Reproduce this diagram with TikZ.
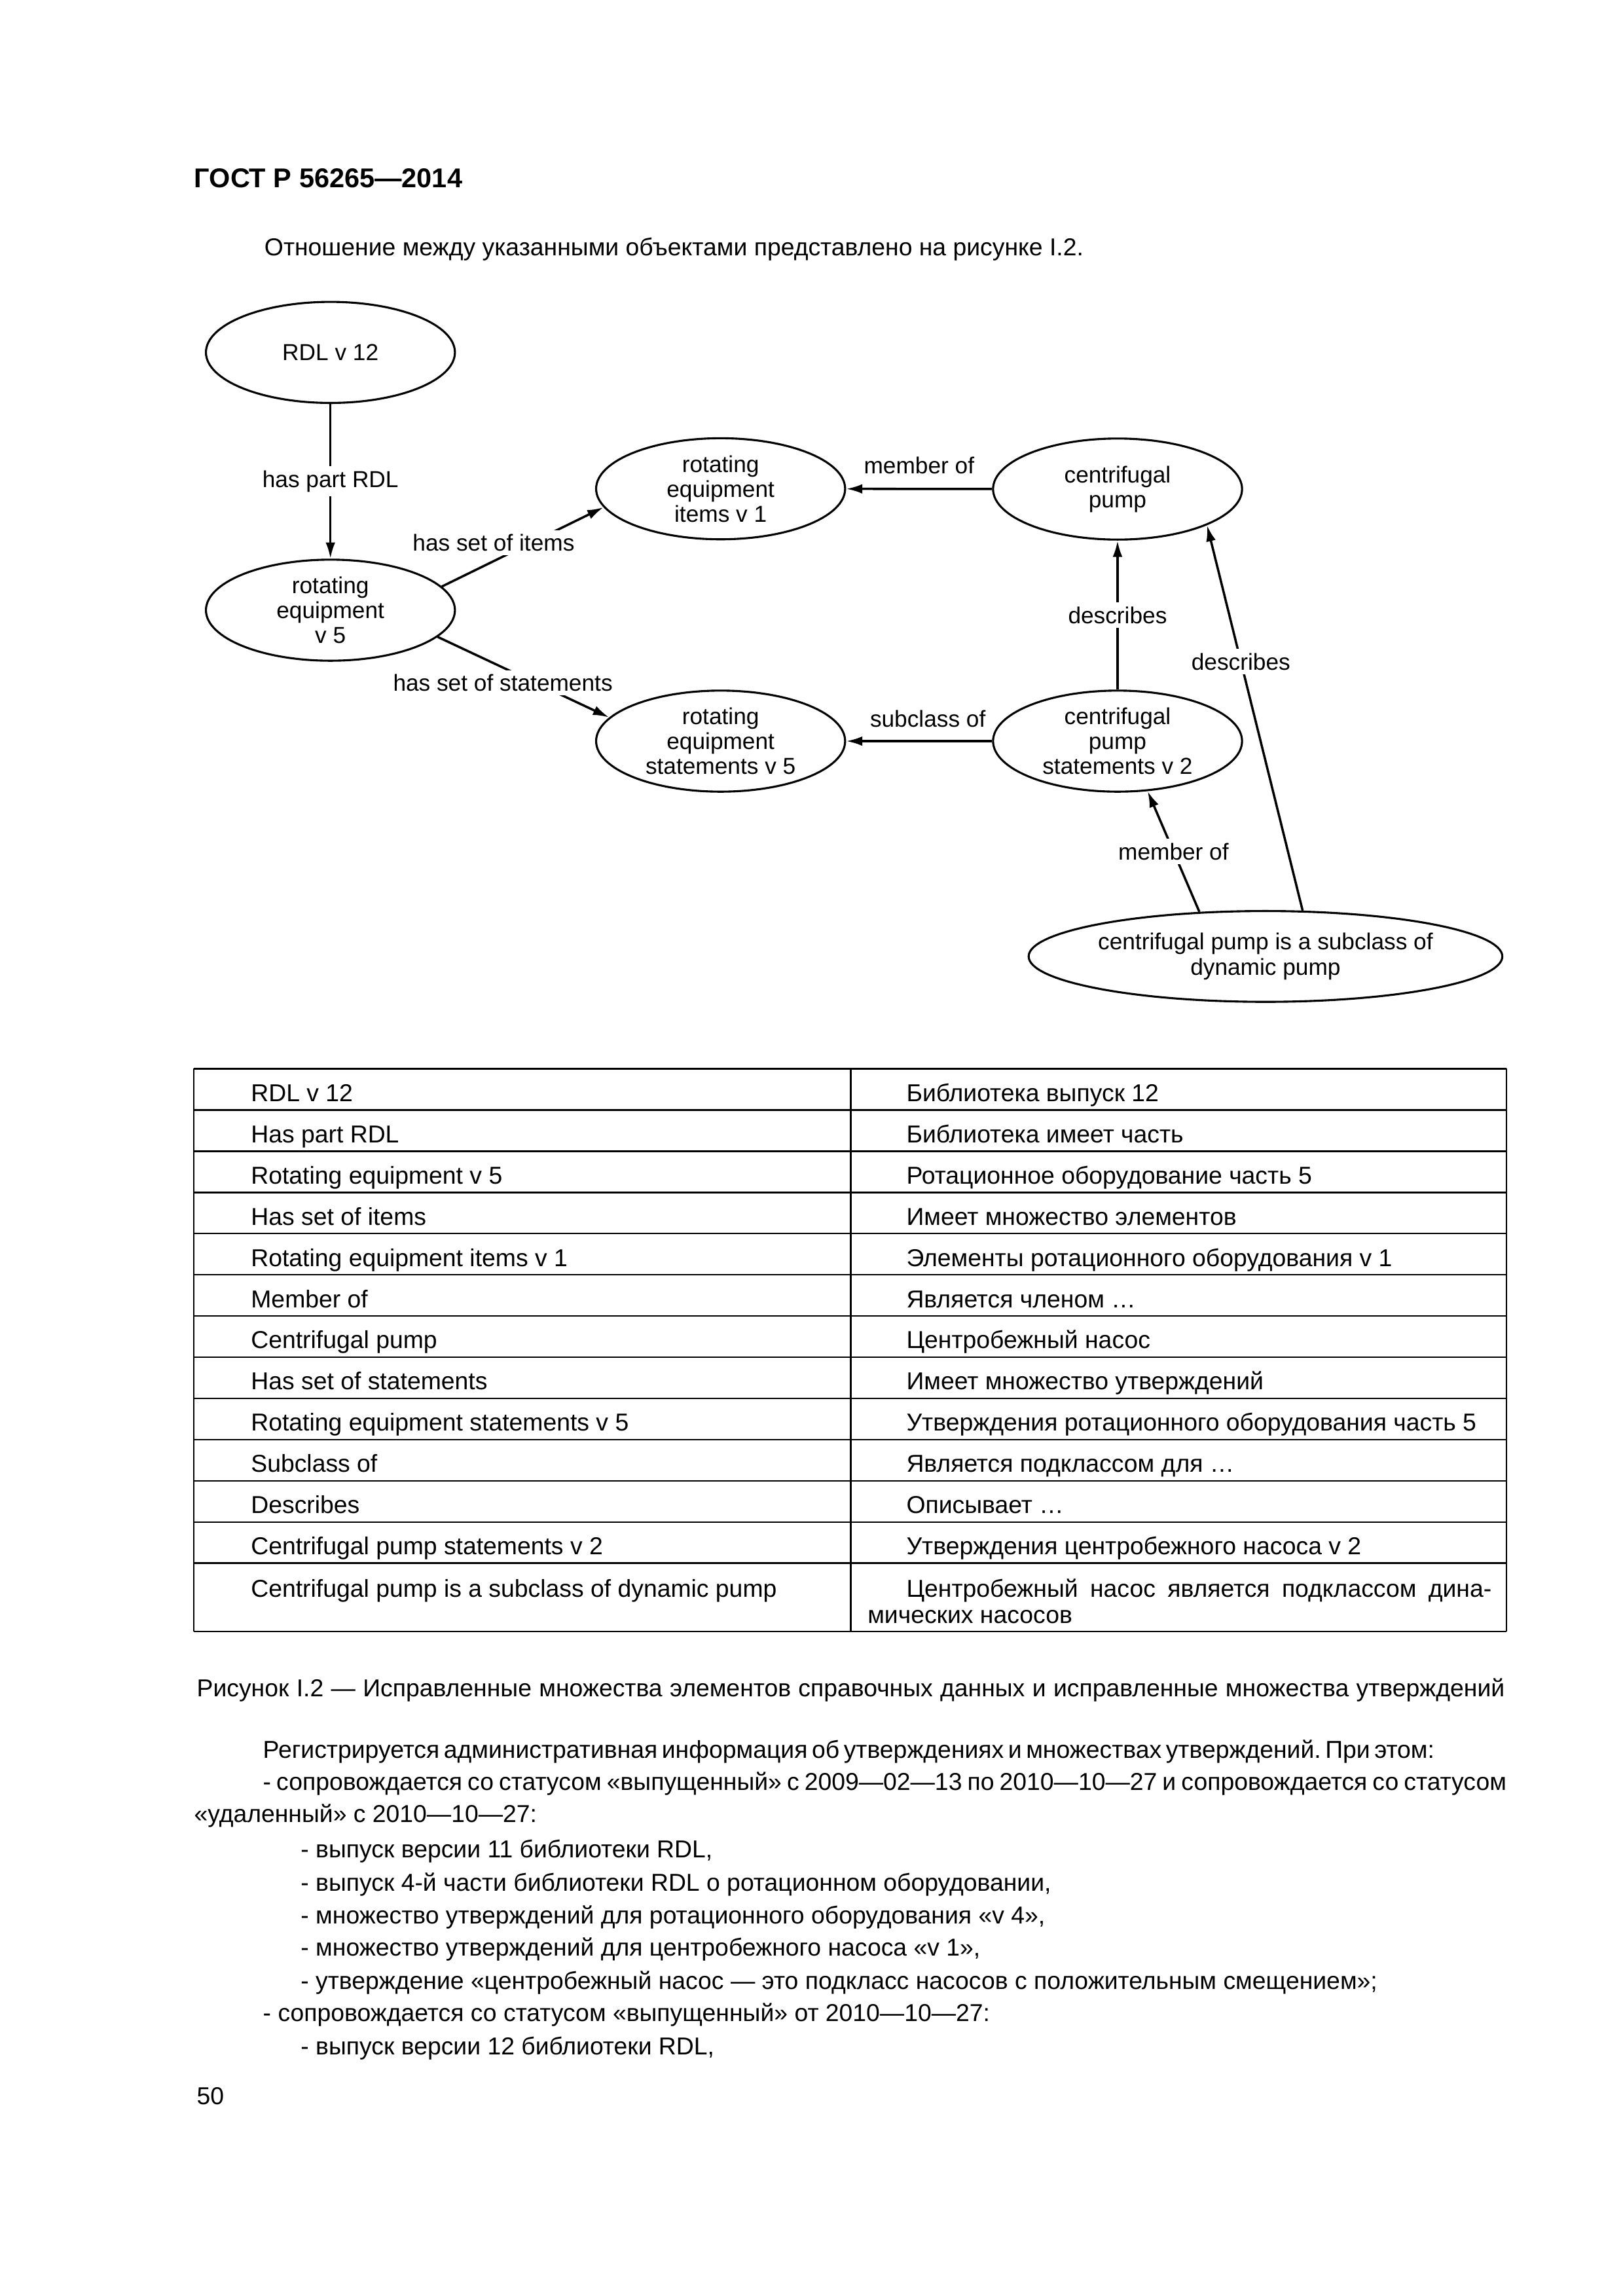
\documentclass[tikz,border=0pt]{standalone}
\usepackage{fontspec}
\setmainfont{Liberation Sans}
\newfontfamily\tightfont{Liberation Sans}[WordSpace=0.63]
\usetikzlibrary{shapes.geometric,arrows.meta}
\newlength\pxu
\setlength\pxu{0.18953mm}
\frenchspacing

\begin{document}
\begin{tikzpicture}[x=\pxu,y=-\pxu,
    obj/.style={ellipse,draw,line width=0.75pt,inner sep=0pt,minimum width=170*\pxu,minimum height=69*\pxu,align=center,font=\fontsize{8.5}{9.2}\selectfont},
    rel/.style={line width=0.85pt,-{Latex[length=2.1mm,width=1.25mm]}},
    lbl/.style={fill=white,inner sep=1.5pt,font=\fontsize{8.5}{9.2}\selectfont},
    txt/.style={anchor=base west,inner sep=0pt,font=\fontsize{9}{11}\selectfont},
    cell/.style={anchor=base west,inner sep=0pt,font=\fontsize{9}{11}\selectfont},
    grid/.style={line width=0.6pt}]
      \useasboundingbox (0,0) rectangle (1108,1567.6);

      \node[txt,font=\fontsize{10}{12}\selectfont\bfseries] (head) at (132.3,128) {ГОСТ Р 56265—2014};
      \node[txt] (intro) at (180.2,174.5) {Отношение между указанными объектами представлено на рисунке I.2.};

      % diagram
      \node[obj] (rdl) at (225.6,240.6) {RDL v 12};
      \node[obj] (rot) at (225.6,416.6) {rotating\\equipment\\v 5};
      \node[obj] (items) at (492,333.7) {rotating\\equipment\\items v 1};
      \node[obj] (cp) at (763,333.9) {centrifugal\\pump};
      \node[obj] (stm) at (492,506) {rotating\\equipment\\statements v 5};
      \node[obj] (cps) at (763,506) {centrifugal\\pump\\statements v 2};
      \node[obj,minimum width=319*\pxu,minimum height=62*\pxu] (sub) at (864,653) {centrifugal pump is a subclass of\\dynamic pump};

      \draw[rel] (rdl) -- node[lbl] {has part RDL} (rot);
      \draw[rel] (rot.12) -- node[lbl,pos=.32,yshift=2.4mm] {has set of items} (items.189);
      \draw[rel] (rot.-14) -- node[lbl,pos=.38,yshift=-2mm] {has set of statements} (stm.168);
      \draw[rel] (cp) -- node[lbl,yshift=3mm] {member of} (items);
      \draw[rel] (cps) -- node[lbl,pos=.44,yshift=2.85mm] {subclass of} (stm);
      \draw[rel] (cps) -- node[lbl] {describes} (cp);
      \draw[rel] (sub.146) -- node[lbl] {member of} (cps.-59);
      \draw[rel] (sub.51) -- node[lbl,pos=.646] {describes} (cp.-22.6);

      % table
      \foreach \k in {0,...,12}
        \draw[grid] (132.2,{729.7+28.13*\k}) -- (1028.5,{729.7+28.13*\k});
      \draw[grid] (132.2,1114) -- (1028.5,1114);
      \foreach \c in {132.2,580.9,1028.5}
        \draw[grid] (\c,729.7) -- (\c,1114);

      \foreach \i/\a/\b in {1/RDL v 12/Библиотека выпуск 12,
                            2/Has part RDL/Библиотека имеет часть,
                            3/Rotating equipment v 5/Ротационное оборудование часть 5,
                            4/Has set of items/Имеет множество элементов,
                            5/Rotating equipment items v 1/Элементы ротационного оборудования v 1,
                            6/Member of/Является членом …,
                            7/Centrifugal pump/Центробежный насос,
                            8/Has set of statements/Имеет множество утверждений,
                            9/Rotating equipment statements v 5/Утверждения ротационного оборудования часть 5,
                            10/Subclass of/Является подклассом для …,
                            11/Describes/Описывает …,
                            12/Centrifugal pump statements v 2/Утверждения центробежного насоса v 2}
      {
        \node[cell] (l\i) at (171,{729.7+28.13*(\i-1)+22.3}) {\a};
        \node[cell] (r\i) at (618.5,{729.7+28.13*(\i-1)+22.3}) {\b};
      }
      \node[cell] (l13) at (171,1090.5) {Centrifugal pump is a subclass of dynamic pump};
      \node[cell] (r13) at (592,1090.5) {\makebox[426\pxu][s]{\hspace*{26.5\pxu}Центробежный насос является подклассом дина-}};
      \node[cell] (r13b) at (592,1108.5) {мических насосов};

      \node[txt] (caption) at (134,1158.3) {\makebox[893\pxu][s]{Рисунок I.2 — Исправленные множества элементов справочных данных и исправленные множества утверждений}};

      % text below
      \node[txt] (p1) at (179.2,1200.5) {\tightfont Регистрируется административная информация об утверждениях и множествах утверждений. При этом:};
      \node[txt] (p2) at (179.2,1222.3) {\makebox[849\pxu][s]{- сопровождается со статусом «выпущенный» с 2009—02—13 по 2010—10—27 и сопровождается со статусом}};
      \node[txt] (p3) at (132.2,1244.3) {«удаленный» с 2010—10—27:};
      \node[txt] (p4) at (205,1268.3) {- выпуск версии 11 библиотеки RDL,};
      \node[txt] (p5) at (205,1291.3) {- выпуск 4-й части библиотеки RDL о ротационном оборудовании,};
      \node[txt] (p6) at (205,1313.3) {- множество утверждений для ротационного оборудования «v 4»,};
      \node[txt] (p7) at (205,1335.3) {- множество утверждений для центробежного насоса «v 1»,};
      \node[txt] (p8) at (205,1358.1) {- утверждение «центробежный насос — это подкласс насосов с положительным смещением»;};
      \node[txt] (p9) at (179.2,1380) {- сопровождается со статусом «выпущенный» от 2010—10—27:};
      \node[txt] (p10) at (205,1402.9) {- выпуск версии 12 библиотеки RDL,};

      \node[txt] (page) at (134,1437) {50};
\end{tikzpicture}
\end{document}
